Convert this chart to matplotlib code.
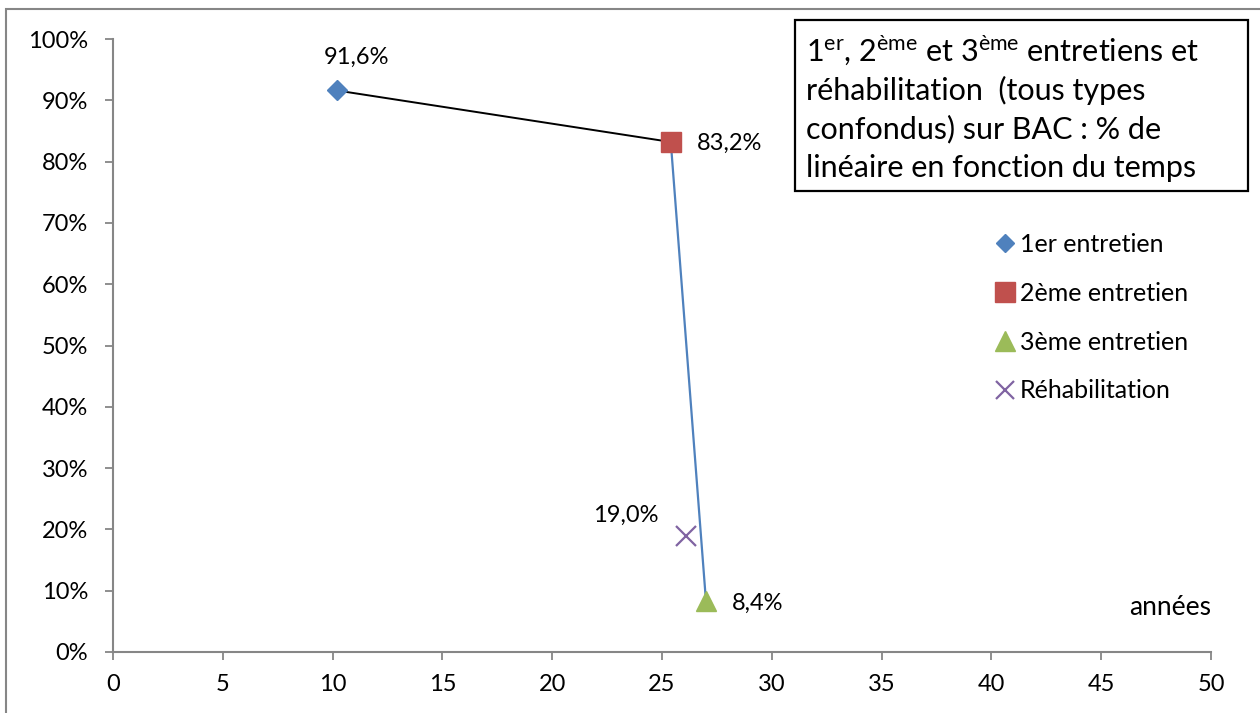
import matplotlib
matplotlib.use("Agg")
import matplotlib.pyplot as plt
from matplotlib.patches import Rectangle
from matplotlib.lines import Line2D

plt.rcParams['font.family'] = ['Lato', 'DejaVu Sans']
plt.rcParams['mathtext.fontset'] = 'custom'
plt.rcParams['mathtext.rm'] = 'Lato'
plt.rcParams['mathtext.it'] = 'Lato:italic'

# Data
series = ["1er entretien", "2ème entretien", "3ème entretien", "Réhabilitation"]
years = [10.2, 25.4, 27.0, 26.1]
share = [91.6, 83.2, 8.4, 19.0]
value_labels = ["91,6%", "83,2%", "8,4%", "19,0%"]
x_ticks = [0, 5, 10, 15, 20, 25, 30, 35, 40, 45, 50]
y_ticks = [0, 10, 20, 30, 40, 50, 60, 70, 80, 90, 100]

markers = ["D", "s", "^", "x"]
colors = ["#4F81BD", "#C0504D", "#9BBB59", "#8064A2"]
sizes = [10, 14.5, 14.5, 14]

W, H = 1260, 713
fig = plt.figure(figsize=(W / 100, H / 100), dpi=100)
ax = fig.add_axes([113 / W, 1 - 652 / H, (1211 - 113) / W, (652 - 39) / H])

grey = "#868686"

# connecting segments
ax.plot(years[0:2], share[0:2], color="black", lw=1.4, zorder=2)
ax.plot(years[1:3], share[1:3], color="#4F81BD", lw=1.6, zorder=2)

for x, y, m, c, s, lab in zip(years, share, markers, colors, sizes, series):
    if m == "x":
        ax.plot([x], [y], ls="none", marker=m, ms=s, mew=1.6, color=c, label=lab, zorder=3)
    else:
        ax.plot([x], [y], ls="none", marker=m, ms=s, color=c, mec=c, label=lab, zorder=3)

offsets = [(20, 33, "center"), (26, -1, "left"), (26, -3, "left"), (-28, 20, "right")]
for x, y, t, (dx, dy, ha) in zip(years, share, value_labels, offsets):
    ax.annotate(t, xy=(x, y), xytext=(dx, dy), textcoords="offset pixels",
                ha=ha, va="center", fontsize=17)

ax.set_xlim(0, 50)
ax.set_ylim(0, 100)
ax.set_xticks(x_ticks)
ax.set_yticks(y_ticks)
ax.set_xticklabels([str(v) for v in x_ticks])
ax.set_yticklabels([f"{v}%" for v in y_ticks])
ax.tick_params(axis="both", length=6, width=1.3, color=grey, labelsize=17)
ax.tick_params(axis="y", pad=12)
ax.tick_params(axis="x", pad=10)
for side in ("top", "right"):
    ax.spines[side].set_visible(False)
for side in ("left", "bottom"):
    ax.spines[side].set_color(grey)
    ax.spines[side].set_linewidth(1.5)

ax.text(50, 7.3, "années", ha="right", va="center", fontsize=19)

# legend
handles = []
for m, c, s, lab in zip(markers, colors, sizes, series):
    if m == "x":
        handles.append(Line2D([], [], ls="none", marker=m, ms=13.5, mew=1.6, color=c, label=lab))
    else:
        handles.append(Line2D([], [], ls="none", marker=m, ms={"D": 9.5, "s": 14, "^": 14}[m], color=c, label=lab))
leg = ax.legend(handles=handles, loc="upper left",
                bbox_to_anchor=((996 - 113) / (1211 - 113), (652 - 233) / (652 - 39)),
                frameon=False, fontsize=18, handlelength=0.75, handletextpad=0.2, labelspacing=1.03,
                borderaxespad=0, borderpad=0)

# outer chart border
fig.patches.append(Rectangle((6 / W, -0.1), 2.0, 1.1 - 9 / H, transform=fig.transFigure,
                             fill=False, ec=grey, lw=1.5))

# title box
fig.patches.append(Rectangle((795 / W, 1 - 191 / H), (1248 - 795) / W, (191 - 20) / H,
                             transform=fig.transFigure, fill=False, ec="black", lw=1.6, zorder=5))
title_lines = [r"1$^{\mathrm{er}}$, 2$^{\mathrm{ème}}$ et 3$^{\mathrm{ème}}$ entretiens et",
               "réhabilitation  (tous types",
               "confondus) sur BAC : % de",
               "linéaire en fonction du temps"]
for i, line in enumerate(title_lines):
    fig.text(806 / W, 1 - (51 + 39 * i) / H, line, ha="left", va="center", fontsize=22)

fig.savefig("out.png", dpi=100)
